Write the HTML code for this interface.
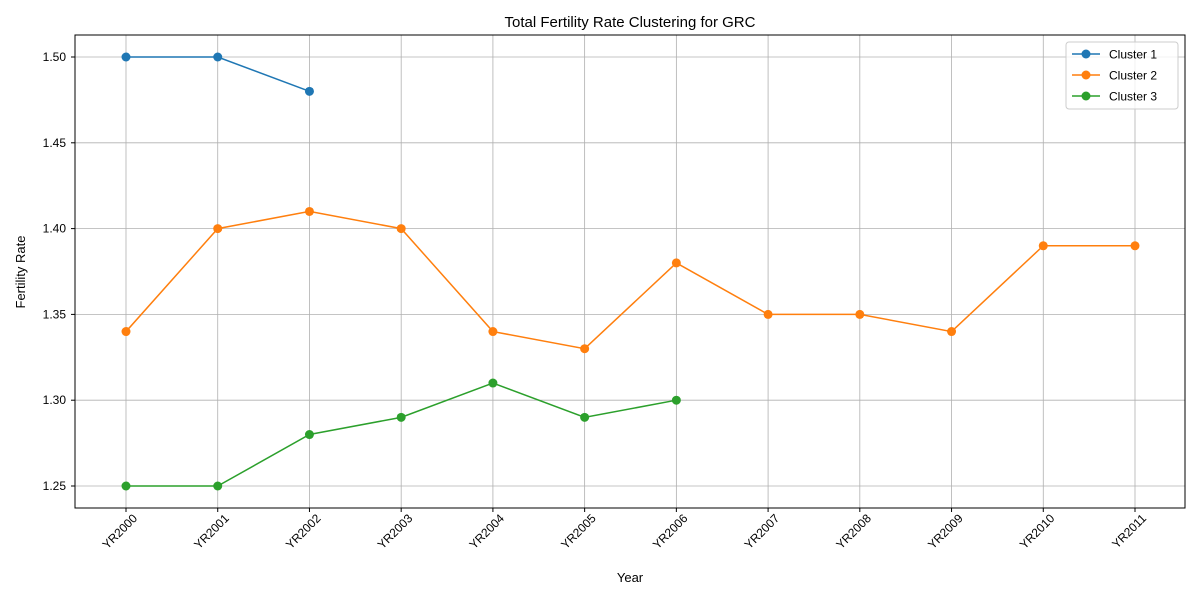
<!DOCTYPE html>
<html><head><meta charset="utf-8"><style>
body{margin:0;background:#fff;}
svg{font-family:"Liberation Sans","DejaVu Sans",sans-serif;}
</style></head><body>
<svg id="chart" width="1200" height="600" xmlns="http://www.w3.org/2000/svg">
<rect width="1200" height="600" fill="#fff"/>
<text x="630" y="27" font-size="15" text-anchor="middle">Total Fertility Rate Clustering for GRC</text>
<g id="grid"></g>
<g id="series"></g>
<rect x="75" y="35" width="1110" height="473" fill="none" stroke="#000" stroke-width="1"/>
<g id="axes"></g>
<text x="630" y="582" font-size="13" text-anchor="middle">Year</text>
<text transform="translate(25,272) rotate(-90)" font-size="13" text-anchor="middle">Fertility Rate</text>
<g id="legend"></g>
</svg>
<script>
const categories = ["YR2000","YR2001","YR2002","YR2003","YR2004","YR2005","YR2006","YR2007","YR2008","YR2009","YR2010","YR2011"];
const cluster1 = [1.50,1.50,1.48,null,null,null,null,null,null,null,null,null];
const cluster2 = [1.34,1.40,1.41,1.40,1.34,1.33,1.38,1.35,1.35,1.34,1.39,1.39];
const cluster3 = [1.25,1.25,1.28,1.29,1.31,1.29,1.30,null,null,null,null,null];
const yTicks = [1.25,1.30,1.35,1.40,1.45,1.50];
const seriesNames = ["Cluster 1","Cluster 2","Cluster 3"];

const NS="http://www.w3.org/2000/svg";
const colors=["#1f77b4","#ff7f0e","#2ca02c"];
function xs(i){return 126+i*(1135-126)/11;}
function ys(v){return 486-(v-1.25)/0.25*429;}
function mk(tag,attrs,parent){const e=document.createElementNS(NS,tag);for(const k in attrs)e.setAttribute(k,attrs[k]);parent.appendChild(e);return e;}
const grid=document.getElementById('grid'),axes=document.getElementById('axes'),ser=document.getElementById('series'),leg=document.getElementById('legend');
categories.forEach((c,i)=>{
  const x=xs(i);
  const g=mk('line',{x1:x,x2:x,y1:35,y2:508,stroke:'#b0b0b0','stroke-width':0.8},grid);
  
  
  mk('line',{x1:x,x2:x,y1:508,y2:512,stroke:'#000'},axes);
  const t=mk('text',{transform:`translate(${x+12},${519}) rotate(-45)`,'font-size':12,'text-anchor':'end'},axes);
  t.textContent=c;
  
  
});
yTicks.forEach(v=>{
  const y=ys(v);
  const g=mk('line',{x1:75,x2:1185,y1:y,y2:y,stroke:'#b0b0b0','stroke-width':0.8},grid);
  
  
  mk('line',{x1:71,x2:75,y1:y,y2:y,stroke:'#000'},axes);
  const t=mk('text',{x:66,y:y+4,'font-size':12,'text-anchor':'end'},axes);
  t.textContent=v.toFixed(2);
  
  
});
[cluster1,cluster2,cluster3].forEach((data,s)=>{
  const pts=[];data.forEach((v,i)=>{if(v!==null)pts.push([xs(i),ys(v)]);});
  const p=mk('polyline',{points:pts.map(p=>p.join(',')).join(' '),fill:'none',stroke:colors[s],'stroke-width':1.5},ser);
  
  
  pts.forEach(pt=>{
    const c=mk('circle',{cx:pt[0],cy:pt[1],r:4.5,fill:colors[s]},ser);
    
    
  });
});
const box=mk('rect',{x:1066,y:42,width:112,height:67,rx:3,fill:'#fff','fill-opacity':0.8,stroke:'#ccc'},leg);


seriesNames.forEach((n,s)=>{
  const y=54+s*21;
  mk('line',{x1:1072,x2:1100,y1:y,y2:y,stroke:colors[s],'stroke-width':1.5},leg);
  mk('circle',{cx:1086,cy:y,r:4.5,fill:colors[s]},leg);
  const t=mk('text',{x:1109,y:y+4.5,'font-size':12},leg);
  t.textContent=n;
  
  
});
</script>
</body></html>
